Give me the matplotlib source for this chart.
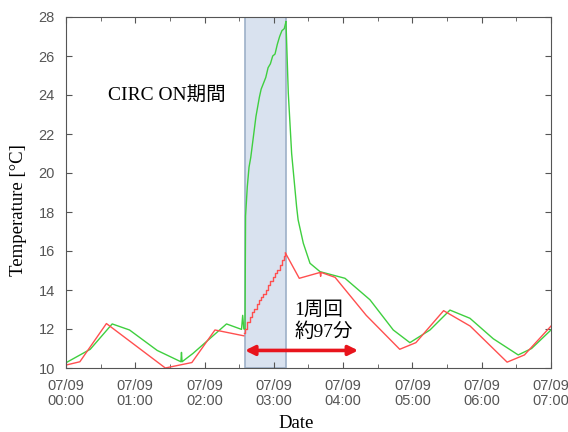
import datetime

import matplotlib
matplotlib.use('Agg')
import matplotlib.pyplot as plt
import matplotlib.dates as mdates

START = datetime.datetime(2017, 7, 9, 0, 0)

# minutes after 00:00 and temperature values
red_t = [0, 12, 35, 86, 109, 129, 154]
red_v = [10.15, 10.32, 12.28, 10.0, 10.28, 11.95, 11.65]
# staircase while CIRC is on
red_on_t = [154.5, 155, 157, 159, 161, 163, 165, 167, 169, 171, 173, 175, 177,
            179, 181, 183, 185, 187, 189, 190]
red_on_v = [11.8, 12.0, 12.35, 12.6, 12.85, 13.05, 13.3, 13.5, 13.65, 13.8,
            14.0, 14.25, 14.45, 14.65, 14.85, 15.05, 15.3, 15.55, 15.75, 15.9]
red_after_t = [190, 202, 220, 220.5, 221, 233, 260, 289, 303, 327, 350, 382, 397, 420]
red_after_v = [15.9, 14.6, 14.9, 14.7, 14.9, 14.65, 12.7, 10.96, 11.3, 12.94,
               12.15, 10.3, 10.67, 12.15]

green_t = [0, 21, 40, 55, 79, 99.5, 100, 100.5, 110, 139, 152, 153, 154, 155]
green_v = [10.27, 10.96, 12.26, 11.95, 10.9, 10.32, 10.8, 10.32, 10.75, 12.26,
           11.98, 12.7, 12.0, 12.0]
green_on_t = [155, 155.5, 157, 158.5, 160, 161.5, 163, 164.5, 166, 167.5, 169,
              171, 173, 175, 177, 179, 181, 183, 185, 187, 189, 190.5]
green_on_v = [12.0, 17.8, 19.3, 20.3, 20.8, 21.5, 22.2, 22.9, 23.4, 23.9, 24.3,
              24.6, 24.9, 25.4, 25.6, 26.0, 26.1, 26.6, 27.0, 27.3, 27.4, 27.76]
green_after_t = [190.5, 192.5, 195.4, 199.7, 201, 205.5, 211.3, 220, 241.6, 263.2,
                 283.4, 297.8, 315.2, 332.5, 349.8, 370, 391.6, 403.2, 420]
green_after_v = [27.76, 24.1, 21.0, 18.27, 17.6, 16.4, 15.37, 14.94, 14.6, 13.5,
                 11.95, 11.3, 11.95, 12.97, 12.55, 11.5, 10.67, 11.0, 11.95]

circ_on = (155, 190.5)
arrow_span = (155, 253)

RED = '#ff4f4f'
GREEN = '#3fcf3f'


def tm(minutes):
    return [START + datetime.timedelta(minutes=m) for m in minutes]


fig = plt.figure(figsize=(5.68, 4.32), dpi=100)
ax = fig.add_axes([66 / 568, 1 - 368 / 432, (551 - 66) / 568, (368 - 17) / 432])

ax.axvspan(tm([circ_on[0]])[0], tm([circ_on[1]])[0], facecolor='#d9e2ef',
           edgecolor='#9db0c8', lw=1.2, zorder=0)

ax.plot(tm(green_t), green_v, color=GREEN, lw=1)
ax.plot(tm(green_on_t), green_on_v, color=GREEN, lw=1)
ax.plot(tm(green_after_t), green_after_v, color=GREEN, lw=1)

ax.plot(tm(red_t), red_v, color=RED, lw=1)
ax.plot(tm(red_on_t), red_on_v, color=RED, lw=1, drawstyle='steps-post')
ax.plot(tm(red_after_t), red_after_v, color=RED, lw=1)

a0, a1 = tm(arrow_span)
ax.annotate('', xy=(a0, 10.9), xytext=(a1, 10.9),
            arrowprops=dict(arrowstyle='<|-|>', color='#e8141c', lw=2.6,
                            mutation_scale=14, shrinkA=0, shrinkB=0))

jp = ['Liberation Serif', 'Noto Sans CJK JP']
ax.text(tm([36])[0], 24.0, 'CIRC ON期間', family=jp, fontsize=14, va='center')
ax.text(tm([198])[0], 12.4, '1周回\n約97分', family=jp, fontsize=14,
        va='center', linespacing=1.2)

ax.set_xlim(START, START + datetime.timedelta(hours=7))
ax.set_ylim(10, 28)
ax.set_yticks(range(10, 29, 2))
ax.xaxis.set_major_locator(mdates.HourLocator())
ax.xaxis.set_minor_locator(mdates.MinuteLocator(byminute=[30]))
ax.xaxis.set_major_formatter(mdates.DateFormatter('%m/%d\n%H:%M'))

ax.tick_params(which='both', direction='in', top=True, right=True,
               colors='#555555', labelsize=10.5)
ax.tick_params(which='major', length=4, pad=8)
ax.tick_params(which='minor', length=3)
for lab in ax.get_xticklabels() + ax.get_yticklabels():
    lab.set_family('Liberation Sans')
    lab.set_linespacing(1.05)
for s in ax.spines.values():
    s.set_color('#555555')

ax.set_xlabel('Date', family='Liberation Serif', fontsize=13.5, va='top')
ax.set_ylabel('Temperature [°C]', family='Liberation Serif', fontsize=13.5)
ax.xaxis.set_label_coords(0.474, -0.134)
ax.yaxis.set_label_coords(-0.08, 0.45)

fig.savefig('out.png', dpi=100)
